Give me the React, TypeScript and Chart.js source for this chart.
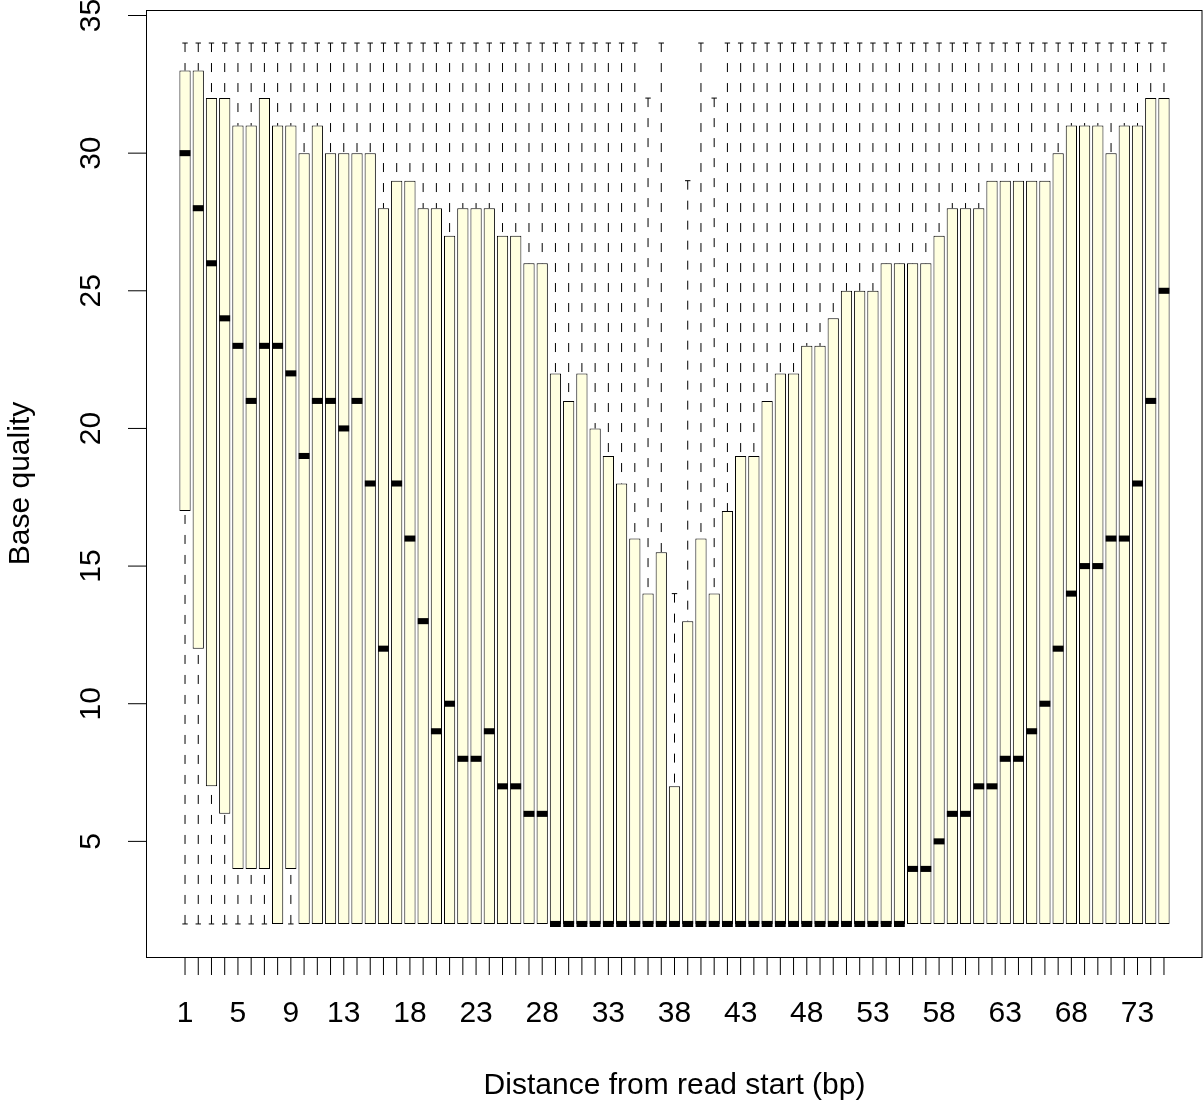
import { useEffect, useRef } from 'react';
import { Chart, registerables } from 'chart.js';

Chart.register(...registerables);

// Read position along the read (bp)
const positions = [
  1, 2, 3, 4, 5, 6, 7, 8, 9, 10, 11, 12, 13, 14, 15, 16, 17, 18, 19, 20,
  21, 22, 23, 24, 25, 26, 27, 28, 29, 30, 31, 32, 33, 34, 35, 36, 37, 38, 39, 40,
  41, 42, 43, 44, 45, 46, 47, 48, 49, 50, 51, 52, 53, 54, 55, 56, 57, 58, 59, 60,
  61, 62, 63, 64, 65, 66, 67, 68, 69, 70, 71, 72, 73, 74, 75,
];

// Five-number summaries of base quality per position
const whiskerLow = [
  2, 2, 2, 2, 2, 2, 2, 2, 2, 2, 2, 2, 2, 2, 2, 2, 2, 2, 2, 2,
  2, 2, 2, 2, 2, 2, 2, 2, 2, 2, 2, 2, 2, 2, 2, 2, 2, 2, 2, 2,
  2, 2, 2, 2, 2, 2, 2, 2, 2, 2, 2, 2, 2, 2, 2, 2, 2, 2, 2, 2,
  2, 2, 2, 2, 2, 2, 2, 2, 2, 2, 2, 2, 2, 2, 2,
];

const hingeLow = [
  17, 12, 7, 6, 4, 4, 4, 2, 4, 2, 2, 2, 2, 2, 2, 2, 2, 2, 2, 2,
  2, 2, 2, 2, 2, 2, 2, 2, 2, 2, 2, 2, 2, 2, 2, 2, 2, 2, 2, 2,
  2, 2, 2, 2, 2, 2, 2, 2, 2, 2, 2, 2, 2, 2, 2, 2, 2, 2, 2, 2,
  2, 2, 2, 2, 2, 2, 2, 2, 2, 2, 2, 2, 2, 2, 2,
];

const medians = [
  30, 28, 26, 24, 23, 21, 23, 23, 22, 19, 21, 21, 20, 21, 18, 12, 18, 16, 13, 9,
  10, 8, 8, 9, 7, 7, 6, 6, 2, 2, 2, 2, 2, 2, 2, 2, 2, 2, 2, 2,
  2, 2, 2, 2, 2, 2, 2, 2, 2, 2, 2, 2, 2, 2, 2, 4, 4, 5, 6, 6,
  7, 7, 8, 8, 9, 10, 12, 14, 15, 15, 16, 16, 18, 21, 25,
];

const hingeHigh = [
  33, 33, 32, 32, 31, 31, 32, 31, 31, 30, 31, 30, 30, 30, 30, 28, 29, 29, 28, 28,
  27, 28, 28, 28, 27, 27, 26, 26, 22, 21, 22, 20, 19, 18, 16, 14, 15.5, 7, 13, 16,
  14, 17, 19, 19, 21, 22, 22, 23, 23, 24, 25, 25, 25, 26, 26, 26, 26, 27, 28, 28,
  28, 29, 29, 29, 29, 29, 30, 31, 31, 31, 30, 31, 31, 32, 32,
];

const whiskerHigh = [
  34, 34, 34, 34, 34, 34, 34, 34, 34, 34, 34, 34, 34, 34, 34, 34, 34, 34, 34, 34,
  34, 34, 34, 34, 34, 34, 34, 34, 34, 34, 34, 34, 34, 34, 34, 32, 34, 14, 29, 34,
  32, 34, 34, 34, 34, 34, 34, 34, 34, 34, 34, 34, 34, 34, 34, 34, 34, 34, 34, 34,
  34, 34, 34, 34, 34, 34, 34, 34, 34, 34, 34, 34, 34, 34, 34,
];

// Axis annotation
const xTickLabels = [1, 5, 9, 13, 18, 23, 28, 33, 38, 43, 48, 53, 58, 63, 68, 73];
const yTickValues = [5, 10, 15, 20, 25, 30, 35];
const xTitle = 'Distance from read start (bp)';
const yTitle = 'Base quality';

const FONT = '30px "Liberation Sans", Arial, sans-serif';
const TICK_LEN = 18;
const MEDIAN_HALF = 0.11;

// Whiskers, staples, frame and R-style axes, all placed through the chart scales
const boxplotDecor = {
  id: 'boxplotDecor',
  beforeDatasetsDraw(chart: any) {
    const { ctx } = chart;
    const ys = chart.scales.y;
    const boxes = chart.getDatasetMeta(0).data;
    ctx.save();
    ctx.strokeStyle = '#000';
    ctx.lineWidth = 1;
    positions.forEach((_p, i) => {
      const bar = boxes[i];
      const px = bar.x;
      const half = bar.width * 0.24;
      const whisker = (end: number, hinge: number) => {
        if (end === hinge) return;
        const y0 = ys.getPixelForValue(end);
        const y1 = ys.getPixelForValue(hinge);
        ctx.setLineDash([9, 11]);
        ctx.beginPath();
        ctx.moveTo(px, y0);
        ctx.lineTo(px, y1);
        ctx.stroke();
        ctx.setLineDash([]);
        ctx.beginPath();
        ctx.moveTo(px - half, y0);
        ctx.lineTo(px + half, y0);
        ctx.stroke();
      };
      whisker(whiskerHigh[i], hingeHigh[i]);
      whisker(whiskerLow[i], hingeLow[i]);
    });
    ctx.restore();
  },
  afterDraw(chart: any) {
    const { ctx, chartArea } = chart;
    const xs = chart.scales.x;
    const ys = chart.scales.y;
    const { left, right, top, bottom } = chartArea;
    ctx.save();
    ctx.strokeStyle = '#000';
    ctx.lineWidth = 1;
    ctx.setLineDash([]);

    // plot frame
    ctx.strokeRect(left + 0.5, top + 0.5, right - left - 1.5, bottom - top);

    // x axis ticks at every position
    ctx.beginPath();
    positions.forEach((p) => {
      const px = xs.getPixelForValue(p);
      ctx.moveTo(px, bottom);
      ctx.lineTo(px, bottom + TICK_LEN);
    });
    ctx.stroke();

    // y axis ticks
    ctx.beginPath();
    yTickValues.forEach((v) => {
      const py = ys.getPixelForValue(v);
      ctx.moveTo(left, py);
      ctx.lineTo(left - TICK_LEN, py);
    });
    ctx.stroke();

    ctx.fillStyle = '#000';
    ctx.font = FONT;

    // x tick labels
    ctx.textAlign = 'center';
    ctx.textBaseline = 'alphabetic';
    xTickLabels.forEach((v) => {
      ctx.fillText(String(v), xs.getPixelForValue(v), bottom + 65);
    });

    // x title
    ctx.fillText(xTitle, (left + right) / 2, bottom + 137);

    // y tick labels, parallel to the axis
    yTickValues.forEach((v) => {
      ctx.save();
      ctx.translate(left - 46, ys.getPixelForValue(v));
      ctx.rotate(-Math.PI / 2);
      ctx.fillText(String(v), 0, 0);
      ctx.restore();
    });

    // y title
    ctx.save();
    ctx.translate(left - 117, (top + bottom) / 2);
    ctx.rotate(-Math.PI / 2);
    ctx.fillText(yTitle, 0, 0);
    ctx.restore();

    ctx.restore();
  },
};

export default function App() {
  const canvasRef = useRef<HTMLCanvasElement | null>(null);

  useEffect(() => {
    const canvas = canvasRef.current;
    if (!canvas) return;

    const boxData = positions.map((p, i) => ({ x: p, y: [hingeLow[i], hingeHigh[i]] }));
    const medianData = positions.map((p, i) => ({
      x: p,
      y: [medians[i] - MEDIAN_HALF, medians[i] + MEDIAN_HALF],
    }));

    const chart = new Chart(canvas, {
      type: 'bar',
      data: {
        datasets: [
          {
            label: 'IQR',
            data: boxData as any,
            backgroundColor: '#FFFFE0',
            borderColor: '#000',
            borderWidth: 1,
            borderSkipped: false,
            grouped: false,
            barPercentage: 0.85,
            categoryPercentage: 1,
            order: 2,
          },
          {
            label: 'Median',
            data: medianData as any,
            backgroundColor: '#000',
            borderWidth: 0,
            grouped: false,
            barPercentage: 0.82,
            categoryPercentage: 1,
            order: 1,
          },
        ],
      },
      options: {
        responsive: false,
        animation: false,
        devicePixelRatio: 1,
        layout: { padding: { left: 146, top: 10, right: 0, bottom: 147 } },
        plugins: {
          legend: { display: false },
          tooltip: { enabled: false },
        },
        scales: {
          x: { type: 'linear', display: false, offset: false, bounds: 'data', min: -1.95, max: 77.95 },
          y: { type: 'linear', display: false, offset: false, bounds: 'data', min: 0.8, max: 35.2 },
        },
      },
      plugins: [boxplotDecor],
    });

    return () => chart.destroy();
  }, []);

  return (
    <div style={{ position: 'absolute', left: 0, top: 0, width: 1203, height: 1104, background: '#fff' }}>
      <canvas ref={canvasRef} width={1203} height={1104} />
    </div>
  );
}
